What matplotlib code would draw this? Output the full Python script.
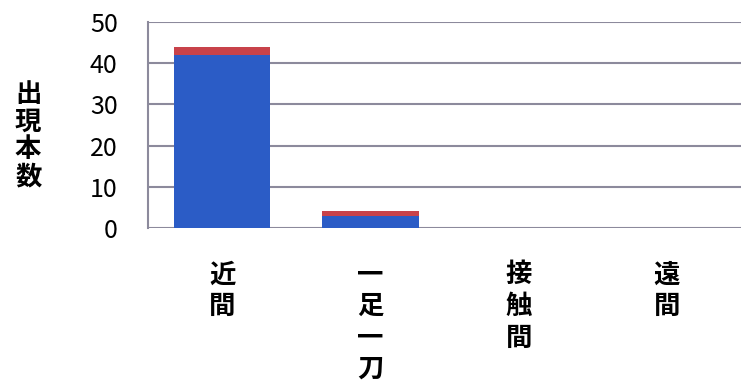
import matplotlib
matplotlib.use("Agg")
import matplotlib.pyplot as plt
import numpy as np

plt.rcParams['font.family'] = ['Noto Sans CJK JP', 'DejaVu Sans']

# 間合いの種類ごとの出現本数
categories = ["近間", "一足一刀", "接触間", "遠間"]
lower_counts = [42, 3, 0, 0]
upper_counts = [2, 1, 0, 0]
yticks = [0, 10, 20, 30, 40, 50]

grid_color = "#8c8a9c"

fig = plt.figure(figsize=(7.41, 3.87), dpi=100)
ax = fig.add_axes([0.2, 0.411, 0.8, 0.532])

x = np.arange(len(categories))
ax.bar(x, lower_counts, width=0.65, color="#2b5cc6", zorder=3)
ax.bar(x, upper_counts, width=0.65, bottom=lower_counts, color="#c8424a", zorder=3)

ax.set_xlim(-0.5, len(categories) - 0.5)
ax.set_ylim(0, 50)
ax.set_yticks(yticks)
ax.set_yticklabels([str(v) for v in yticks], fontsize=18)
ax.yaxis.grid(True, color=grid_color, linewidth=1.5, zorder=0)

# 縦書きのラベル
ax.set_xticks(x)
ax.set_xticklabels(["\n".join(c) for c in categories], fontsize=19,
                   fontweight="bold", linespacing=1.22, va="top")
ax.tick_params(axis="x", length=0, pad=24)
ax.tick_params(axis="y", length=0, pad=22)

for side in ["top", "right", "bottom"]:
    ax.spines[side].set_visible(False)
ax.spines["left"].set_color(grid_color)
ax.spines["left"].set_linewidth(1.5)

fig.text(0.038, 0.65, "\n".join("出現本数"), fontsize=19, fontweight="bold",
         linespacing=1.02, ha="center", va="center")

fig.savefig("out.png", dpi=100)
